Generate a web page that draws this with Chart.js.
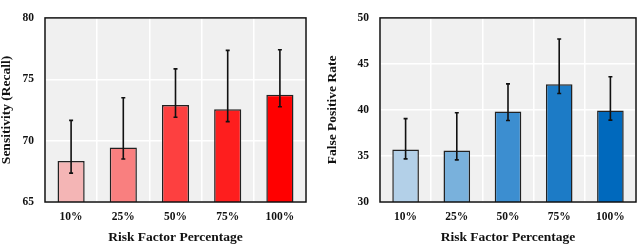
<!DOCTYPE html>
<html>
<head>
<meta charset="utf-8">
<script src="https://cdn.jsdelivr.net/npm/chart.js@4"></script>
<style>
  body { margin: 0; background: #fff; }
  .wrap { display: flex; width: 640px; height: 245px; }
  canvas { display: block; }
</style>
</head>
<body>
<div class="wrap">
  <canvas id="sens" width="320" height="245"></canvas>
  <canvas id="fpr" width="320" height="245"></canvas>
</div>
<script>
const categories = ['10%', '25%', '50%', '75%', '100%'];

// sensitivity (recall), mean with lower/upper error ends
const sensMean = [68.35, 69.45, 72.9, 72.56, 73.74];
const sensLow  = [67.35, 68.5, 71.9, 71.55, 72.76];
const sensHigh = [71.65, 73.5, 75.85, 77.35, 77.4];

// false positive rate
const fprMean = [35.7, 35.6, 39.83, 42.8, 39.93];
const fprLow  = [34.68, 34.58, 38.86, 41.79, 38.9];
const fprHigh = [39.06, 39.7, 42.83, 47.7, 43.6];

const redShades  = ['#f4b5b5', '#f97f7f', '#fd4040', '#fe1e1e', '#ff0000'];
const blueShades = ['#b3d0e8', '#79b1dc', '#3c8ed0', '#1c7bc6', '#0069bd'];

const serif = "'Liberation Serif', 'Times New Roman', serif";

const plotFrame = {
    id: 'plotFrame',
    beforeDraw(chart) {
        const { ctx, chartArea: a } = chart;
        ctx.save();
        ctx.fillStyle = '#f0f0f0';
        ctx.fillRect(a.left, a.top, a.right - a.left, a.bottom - a.top);
        ctx.restore();
    },
    afterDatasetsDraw(chart, args, opts) {
        const { ctx, chartArea: a } = chart;
        const x = chart.scales.x, y = chart.scales.y;
        ctx.save();
        ctx.strokeStyle = '#111';
        ctx.lineWidth = 1.6;
        opts.low.forEach((lo, i) => {
            const px = x.getPixelForValue(i);
            const y1 = y.getPixelForValue(lo);
            const y2 = y.getPixelForValue(opts.high[i]);
            ctx.beginPath();
            ctx.moveTo(px, y1); ctx.lineTo(px, y2);
            ctx.moveTo(px - 2, y1); ctx.lineTo(px + 2, y1);
            ctx.moveTo(px - 2, y2); ctx.lineTo(px + 2, y2);
            ctx.stroke();
        });
        ctx.lineWidth = 1.5;
        ctx.strokeRect(a.left, a.top, a.right - a.left, a.bottom - a.top);
        ctx.restore();
    }
};

function makeChart(id, values, low, high, colors, yTitle, yMin, yMax, yWidth, titlePad, padRight, padTop) {
    return new Chart(document.getElementById(id), {
        type: 'bar',
        data: {
            labels: categories,
            datasets: [{
                data: values,
                backgroundColor: colors,
                borderColor: '#222',
                borderWidth: 1.5,
                borderSkipped: false,
                categoryPercentage: 1,
                barPercentage: 0.52
            }]
        },
        options: {
            responsive: false,
            animation: false,
            layout: { padding: { top: padTop, right: padRight, left: 0, bottom: 0 } },
            plugins: {
                legend: { display: false },
                tooltip: { enabled: false },
                plotFrame: { low: low, high: high }
            },
            scales: {
                x: {
                    afterFit: s => { s.height = 43; },
                    grid: { color: '#ffffff', lineWidth: 1.5, drawTicks: false, offset: true },
                    border: { display: false },
                    ticks: { color: '#111', padding: 8, font: { family: serif, size: 11.5, weight: 'bold' } },
                    title: {
                        display: true, text: 'Risk Factor Percentage', color: '#111',
                        padding: { top: 0, bottom: 1 },
                        font: { family: serif, size: 13.5, weight: 'bold', lineHeight: 1 }
                    }
                },
                y: {
                    min: yMin, max: yMax,
                    afterFit: s => { s.width = yWidth; },
                    grid: { color: '#ffffff', lineWidth: 1.5, drawTicks: false },
                    border: { display: false },
                    ticks: { stepSize: 5, color: '#111', padding: 11, font: { family: serif, size: 11.5, weight: 'bold' } },
                    title: {
                        display: true, text: yTitle, color: '#111',
                        padding: { top: titlePad, bottom: 0 },
                        font: { family: serif, size: 13.5, weight: 'bold', lineHeight: 1 }
                    }
                }
            }
        },
        plugins: [plotFrame]
    });
}

makeChart('sens', sensMean, sensLow, sensHigh, redShades, 'Sensitivity (Recall)', 65, 80, 45, 0, 14, 3);
makeChart('fpr', fprMean, fprLow, fprHigh, blueShades, 'False Positive Rate', 30, 50, 60, 6, 4, 4);
</script>
</body>
</html>
